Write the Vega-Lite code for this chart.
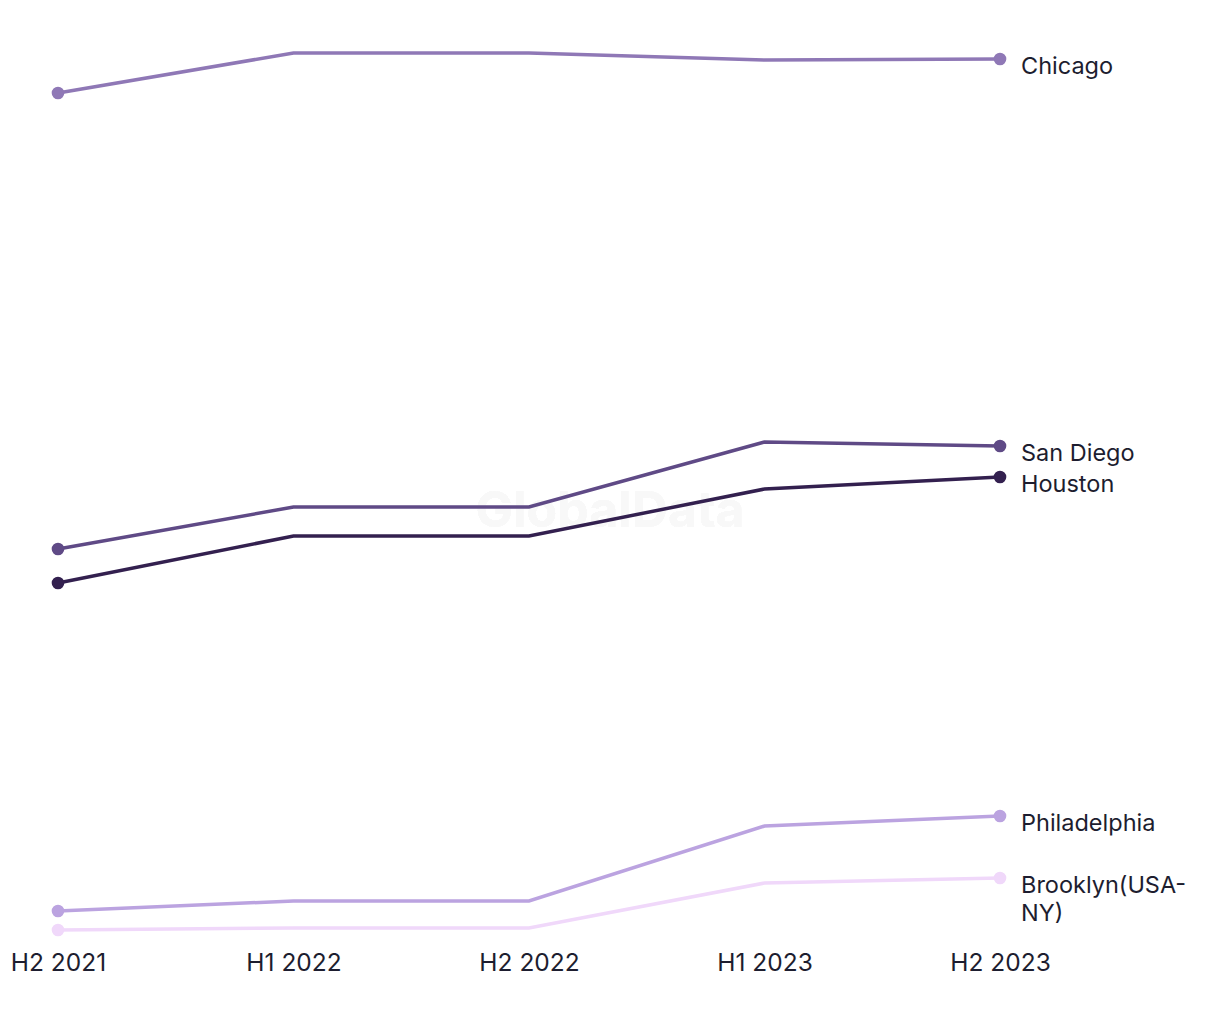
{
  "$schema": "https://vega.github.io/schema/vega-lite/v6.json",
  "autosize": "none",
  "width": 942,
  "height": 940,
  "padding": {"left": 58, "top": 0, "right": 220, "bottom": 80},
  "background": "white",
  "config": {"view": {"stroke": null}, "font": "Inter"},
  "data": {
    "values": [
      {"period": "H2 2021", "city": "Chicago", "value": 847},
      {"period": "H1 2022", "city": "Chicago", "value": 887},
      {"period": "H2 2022", "city": "Chicago", "value": 887},
      {"period": "H1 2023", "city": "Chicago", "value": 880},
      {"period": "H2 2023", "city": "Chicago", "value": 881},
      {"period": "H2 2021", "city": "San Diego", "value": 391},
      {"period": "H1 2022", "city": "San Diego", "value": 433},
      {"period": "H2 2022", "city": "San Diego", "value": 433},
      {"period": "H1 2023", "city": "San Diego", "value": 498},
      {"period": "H2 2023", "city": "San Diego", "value": 494},
      {"period": "H2 2021", "city": "Houston", "value": 357},
      {"period": "H1 2022", "city": "Houston", "value": 404},
      {"period": "H2 2022", "city": "Houston", "value": 404},
      {"period": "H1 2023", "city": "Houston", "value": 451},
      {"period": "H2 2023", "city": "Houston", "value": 463},
      {"period": "H2 2021", "city": "Philadelphia", "value": 29},
      {"period": "H1 2022", "city": "Philadelphia", "value": 39},
      {"period": "H2 2022", "city": "Philadelphia", "value": 39},
      {"period": "H1 2023", "city": "Philadelphia", "value": 114},
      {"period": "H2 2023", "city": "Philadelphia", "value": 124},
      {"period": "H2 2021", "city": "Brooklyn(USA-NY)", "value": 10},
      {"period": "H1 2022", "city": "Brooklyn(USA-NY)", "value": 12},
      {"period": "H2 2022", "city": "Brooklyn(USA-NY)", "value": 12},
      {"period": "H1 2023", "city": "Brooklyn(USA-NY)", "value": 57},
      {"period": "H2 2023", "city": "Brooklyn(USA-NY)", "value": 62}
    ]
  },
  "encoding": {
    "x": {
      "field": "period",
      "type": "ordinal",
      "sort": ["H2 2021", "H1 2022", "H2 2022", "H1 2023", "H2 2023"],
      "scale": {"type": "point", "padding": 0},
      "axis": {
        "title": null,
        "domain": false,
        "ticks": false,
        "grid": false,
        "labelAngle": 0,
        "labelFontSize": 24.5,
        "labelColor": "#1d1d2f",
        "labelPadding": 11,
        "labelFont": "Inter"
      }
    },
    "y": {
      "field": "value",
      "type": "quantitative",
      "scale": {"domain": [0, 940], "nice": false, "zero": false},
      "axis": null
    },
    "color": {
      "field": "city",
      "type": "nominal",
      "scale": {
        "domain": ["Chicago", "San Diego", "Houston", "Philadelphia", "Brooklyn(USA-NY)"],
        "range": ["#8f78b6", "#5f4a86", "#33204f", "#bba3e0", "#f0d8fa"]
      },
      "legend": null
    }
  },
  "layer": [
    {
      "mark": {"type": "text", "text": "GlobalData", "fontSize": 50, "fontWeight": "bold", "dx": 81, "font": "Inter"},
      "encoding": {
        "x": {"datum": "H2 2022"},
        "y": {"datum": 428},
        "color": {"value": "#f8f8f8"}
      }
    },
    {
      "mark": {"type": "line", "strokeWidth": 3.5},
      "encoding": {"detail": {"field": "city"}}
    },
    {
      "transform": [{"filter": "datum.period == 'H2 2021' || datum.period == 'H2 2023'"}],
      "mark": {"type": "circle", "size": 160, "opacity": 1}
    },
    {
      "transform": [
        {"filter": "datum.period == 'H2 2023'"},
        {"calculate": "replace(datum.city, 'USA-', 'USA-\\n')", "as": "label"}
      ],
      "mark": {"type": "text", "align": "left", "baseline": "top", "dx": 21, "dy": -4, "fontSize": 23.5, "lineBreak": "\n", "lineHeight": 28, "font": "Inter"},
      "encoding": {
        "text": {"field": "label"},
        "color": {"value": "#1d1d2f"}
      }
    }
  ]
}
